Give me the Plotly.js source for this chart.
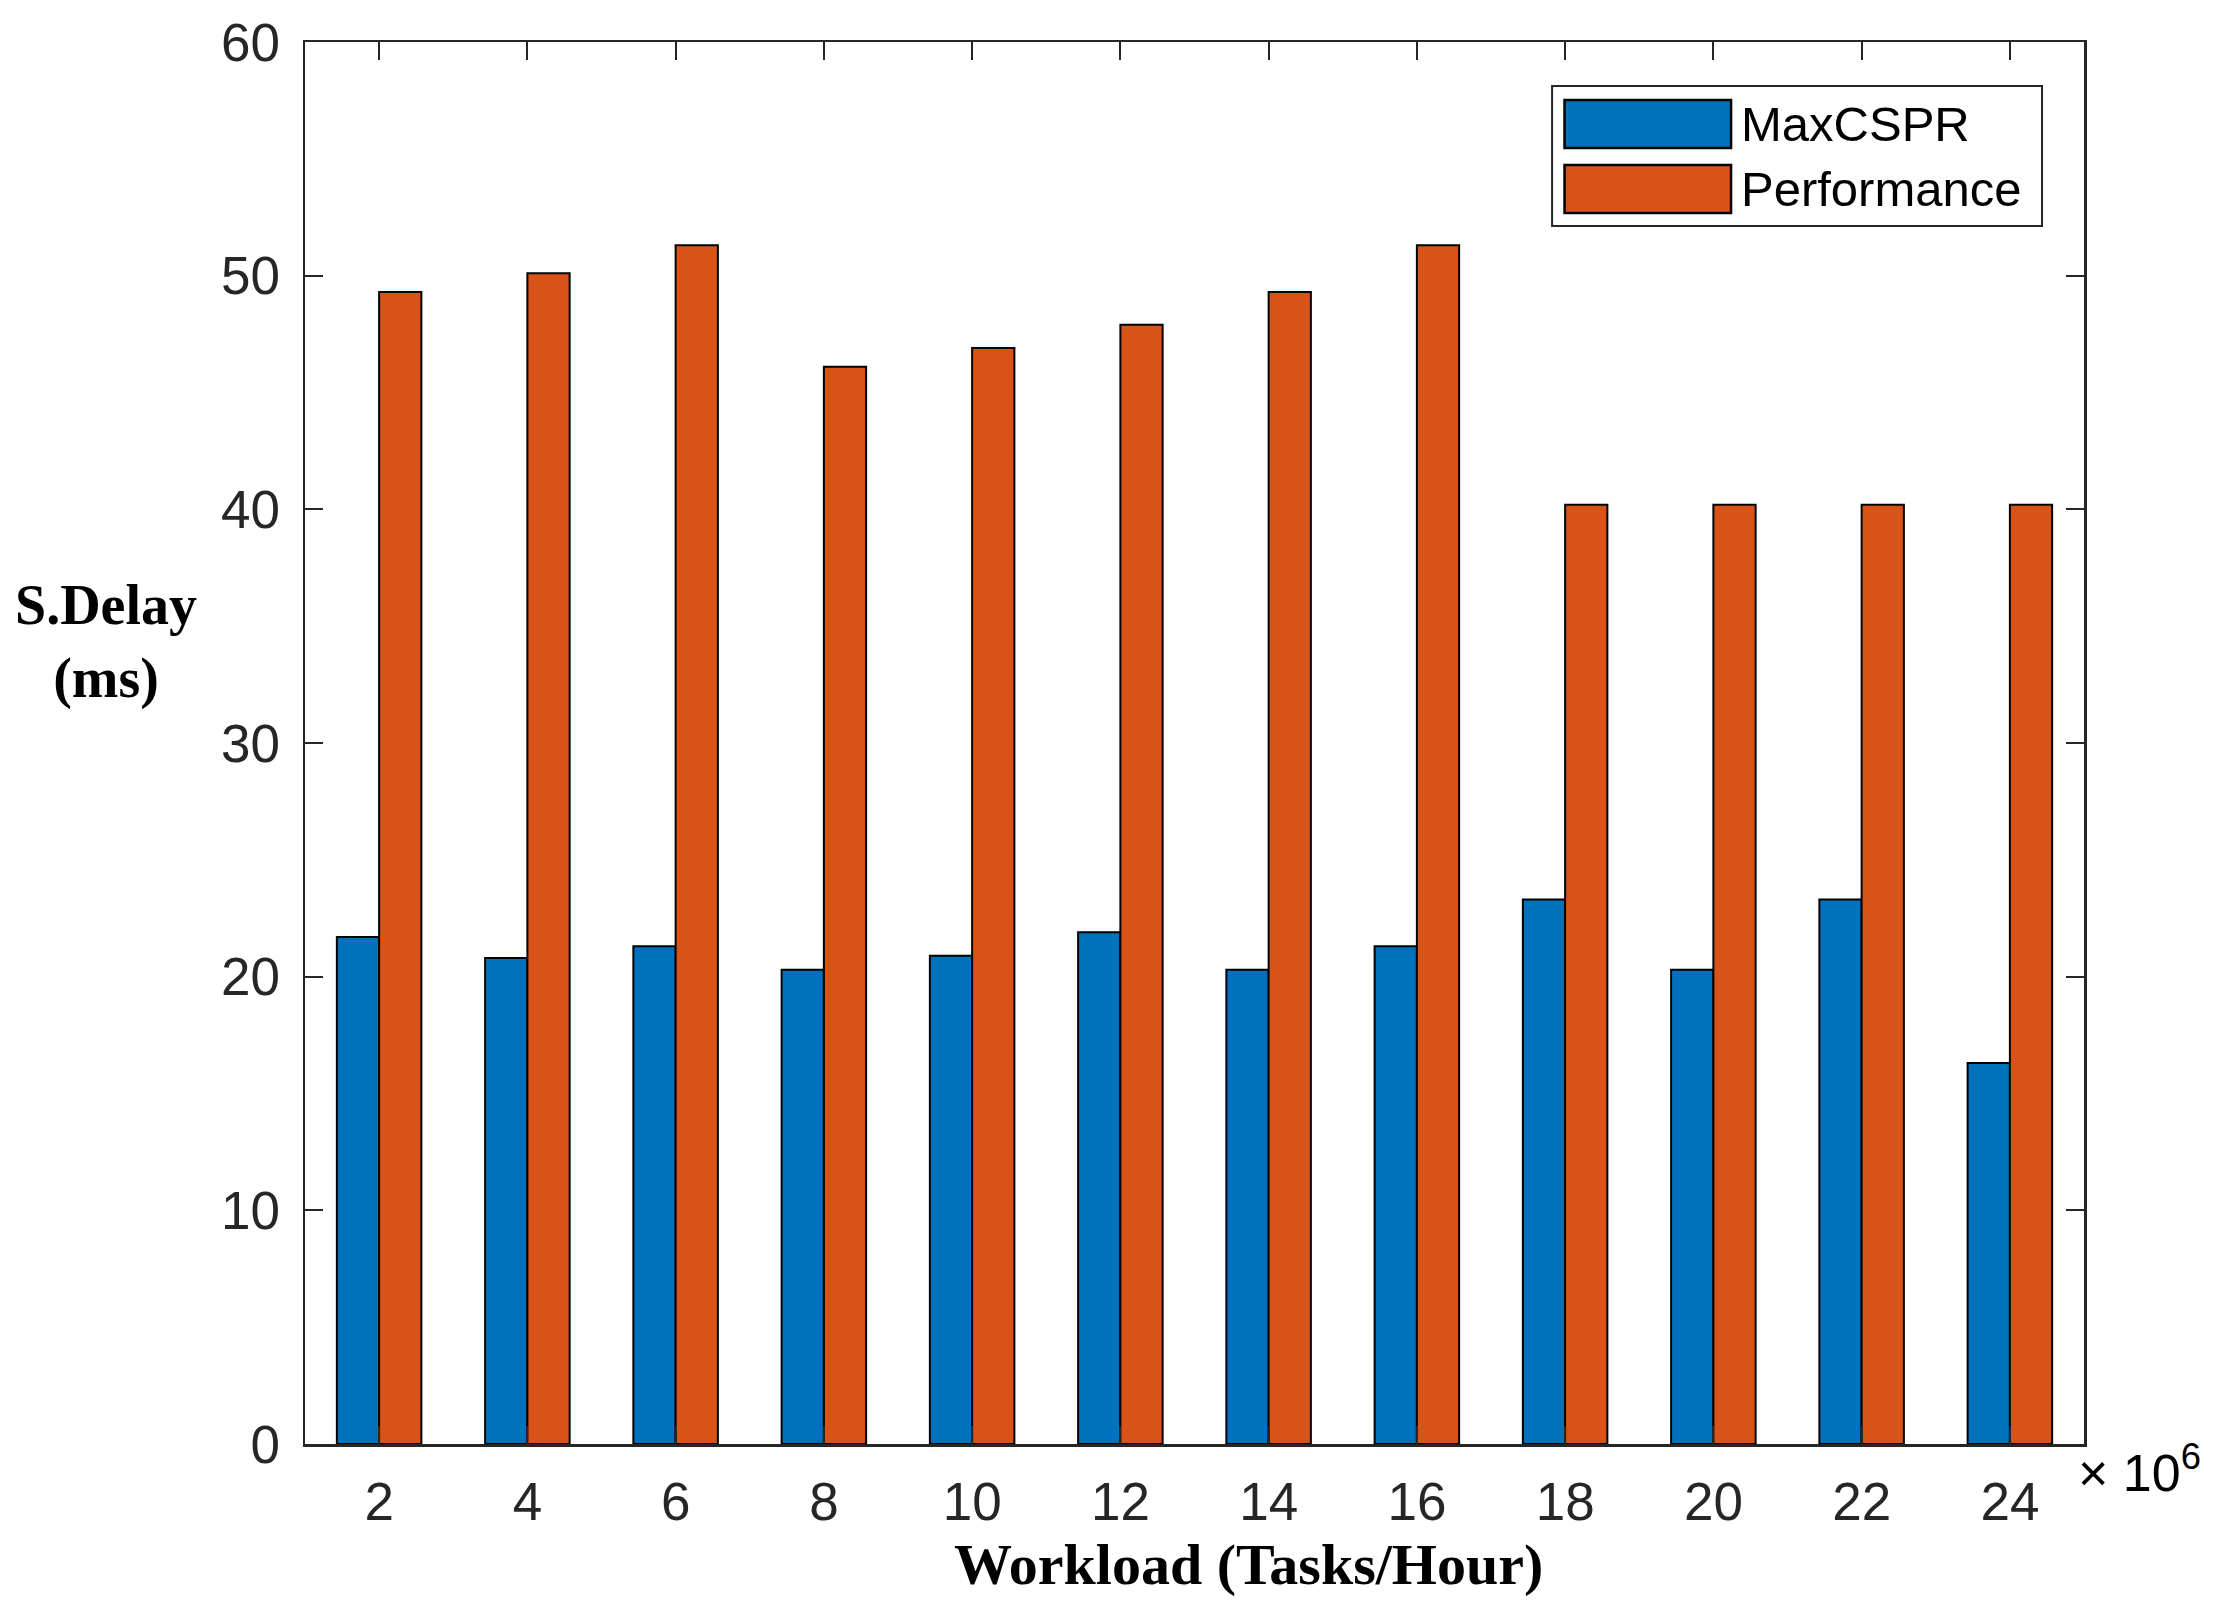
<!DOCTYPE html>
<html>
<head>
<meta charset="utf-8">
<script src="https://cdn.plot.ly/plotly-3.0.1.min.js"></script>
<style>html,body{margin:0;padding:0;background:#fff;}#chart{width:2214px;height:1608px;}</style>
</head>
<body>
<div id="chart"></div>
<script>
const workload = [2, 4, 6, 8, 10, 12, 14, 16, 18, 20, 22, 24];
const maxcspr = [21.7, 20.8, 21.3, 20.3, 20.9, 21.9, 20.3, 21.3, 23.3, 20.3, 23.3, 16.3];
const performance = [49.3, 50.1, 51.3, 46.1, 46.9, 47.9, 49.3, 51.3, 40.2, 40.2, 40.2, 40.2];
const seriesNames = ['MaxCSPR', 'Performance'];
const seriesColors = ['#0072BD', '#D95319'];

const traces = [
  {type: 'bar', x: workload, y: maxcspr, name: seriesNames[0],
   marker: {color: seriesColors[0], line: {color: '#000', width: 2}}},
  {type: 'bar', x: workload, y: performance, name: seriesNames[1],
   marker: {color: seriesColors[1], line: {color: '#000', width: 2}}}
];

const axColor = '#262626';
const sans = 'Liberation Sans, Arial, sans-serif';
const serif = 'Liberation Serif, Times New Roman, serif';
const tickFont = {family: sans, size: 53, color: axColor};

// custom legend (paper coords)
const shapes = [
  {type: 'rect', xref: 'paper', yref: 'paper', x0: 0.701, x1: 0.9764, y0: 0.8688, y1: 0.9686,
   line: {color: axColor, width: 2}, fillcolor: '#fff'},
  {type: 'rect', xref: 'paper', yref: 'paper', x0: 0.708, x1: 0.8016, y0: 0.9244, y1: 0.9586,
   line: {color: '#000', width: 2.5}, fillcolor: seriesColors[0]},
  {type: 'rect', xref: 'paper', yref: 'paper', x0: 0.708, x1: 0.8016, y0: 0.878, y1: 0.9123,
   line: {color: '#000', width: 2.5}, fillcolor: seriesColors[1]}
];

const annotations = [
  {xref: 'paper', yref: 'paper', x: 0.806, y: 0.9415, xanchor: 'left', yanchor: 'middle',
   text: seriesNames[0], showarrow: false, font: {family: sans, size: 49, color: '#000'}},
  {xref: 'paper', yref: 'paper', x: 0.806, y: 0.8952, xanchor: 'left', yanchor: 'middle',
   text: seriesNames[1], showarrow: false, font: {family: sans, size: 49, color: '#000'}},
  {xref: 'paper', yref: 'paper', x: -0.112, y: 0.572, xanchor: 'center', yanchor: 'middle',
   text: '<b>S.Delay</b><br><b>(ms)</b>', showarrow: false, align: 'center',
   font: {family: serif, size: 56, color: '#000'}},
  {xref: 'paper', yref: 'paper', x: 0.5305, y: -0.086, xanchor: 'center', yanchor: 'middle',
   text: '<b>Workload (Tasks/Hour)</b>', showarrow: false,
   font: {family: serif, size: 58, color: '#000'}},
  {xref: 'paper', yref: 'paper', x: 0.9955, y: -0.018, xanchor: 'left', yanchor: 'middle',
   text: '× 10<sup>6</sup>', showarrow: false,
   font: {family: sans, size: 52, color: '#000'}}
];

const layout = {
  width: 2214, height: 1608,
  margin: {l: 305, r: 130, t: 42, b: 164, pad: 0},
  paper_bgcolor: '#fff', plot_bgcolor: '#fff',
  showlegend: false,
  barmode: 'group', bargap: 0.43, bargroupgap: 0,
  xaxis: {
    range: [1, 25], tickmode: 'array', tickvals: workload, ticktext: workload.map(String),
    ticks: 'inside', ticklen: 18, tickwidth: 2, tickcolor: axColor,
    showline: true, linecolor: axColor, linewidth: 2.5, mirror: 'ticks',
    showgrid: false, zeroline: false, tickfont: tickFont, ticklabelstandoff: 10
  },
  yaxis: {
    range: [0, 60], tickmode: 'linear', tick0: 0, dtick: 10,
    ticks: 'inside', ticklen: 18, tickwidth: 2, tickcolor: axColor,
    showline: true, linecolor: axColor, linewidth: 2.5, mirror: 'ticks',
    showgrid: false, zeroline: false, tickfont: tickFont, ticklabelstandoff: 12
  },
  shapes: shapes,
  annotations: annotations
};

Plotly.newPlot('chart', traces, layout, {displayModeBar: false, staticPlot: true});
</script>
</body>
</html>
